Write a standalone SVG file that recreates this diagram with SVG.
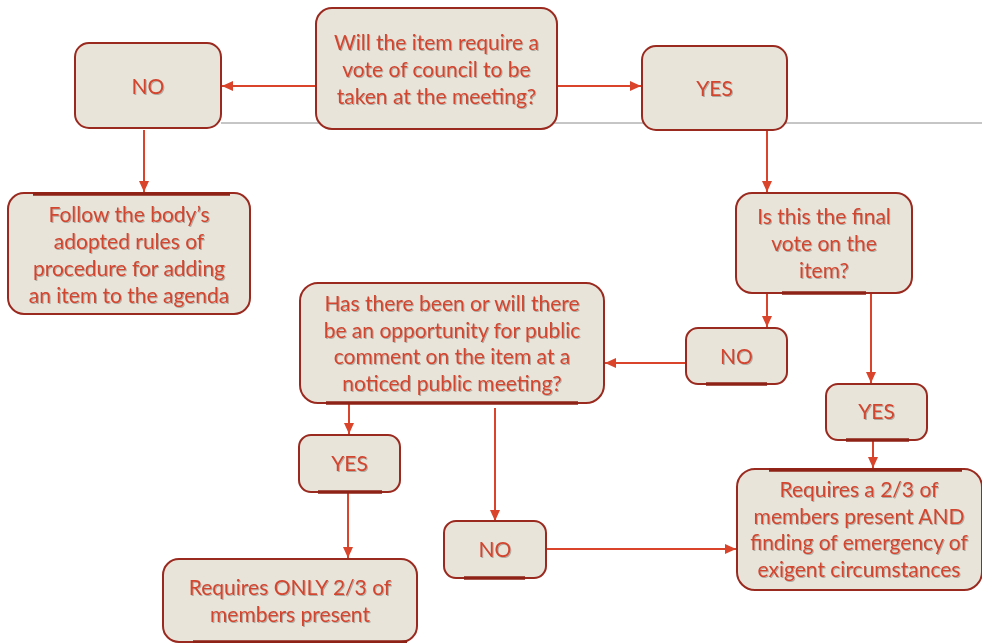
<svg xmlns="http://www.w3.org/2000/svg" width="982" height="643" viewBox="0 0 982 643">
<style>
.box{fill:#E8E4DA;stroke:#9A2A1F;stroke-width:2}
.edge{stroke:#8E2216;stroke-width:3.5;fill:none}
.t{font-family:Lato,"Open Sans",sans-serif;font-size:21px;fill:#D2452F;text-anchor:middle;filter:url(#sh)}
.c{stroke:#D9442B;stroke-width:2;fill:none;marker-end:url(#ah)}
</style>
<defs>
<marker id="ah" markerUnits="userSpaceOnUse" markerWidth="12" markerHeight="10" refX="11" refY="5" orient="auto">
<path d="M0,0 L11,5 L0,10 Z" fill="#D9442B"/>
</marker>
<filter id="sh" x="-5%" y="-20%" width="110%" height="140%">
<feDropShadow dx="1" dy="1" stdDeviation="0.7" flood-color="#000" flood-opacity="0.25"/>
</filter>
</defs>
<line x1="221" y1="123" x2="982" y2="123" stroke="#8C8C8C" stroke-width="1"/>
<g id="connectors">
<path class="c" d="M316,86 H222"/>
<path class="c" d="M557,86 H641"/>
<path class="c" d="M144,130 V192"/>
<path class="c" d="M767,130 V192"/>
<path class="c" d="M767,294 V327"/>
<path class="c" d="M871,294 V383"/>
<path class="c" d="M686,363 H605"/>
<path class="c" d="M349,404 V434"/>
<path class="c" d="M495,408 V521"/>
<path class="c" d="M348,493 V558"/>
<path class="c" d="M546,549 H736"/>
<path class="c" d="M873,441 V468"/>
</g>
<g id="q1">
<rect class="box" x="316" y="8" width="241" height="121" rx="16"/>
<text class="t" x="436.5" y="50">Will the item require a</text>
<text class="t" x="436.5" y="77">vote of council to be</text>
<text class="t" x="436.5" y="104">taken at the meeting?</text>
</g>
<g id="no1">
<rect class="box" x="75" y="43" width="146" height="85" rx="14"/>
<text class="t" x="148" y="94">NO</text>
</g>
<g id="yes1">
<rect class="box" x="642" y="46" width="145" height="84" rx="14"/>
<text class="t" x="714.5" y="96">YES</text>
</g>
<g id="follow">
<rect class="box" x="8" y="193" width="242" height="121" rx="16"/>
<path class="edge" d="M33,194 H230"/>
<text class="t" x="129" y="222">Follow the body’s</text>
<text class="t" x="129" y="249">adopted rules of</text>
<text class="t" x="129" y="276">procedure for adding</text>
<text class="t" x="129" y="303">an item to the agenda</text>
</g>
<g id="q2">
<rect class="box" x="736" y="193" width="176" height="100" rx="16"/>
<path class="edge" d="M782,293 H866"/>
<text class="t" x="824" y="224">Is this the final</text>
<text class="t" x="824" y="251">vote on the</text>
<text class="t" x="824" y="278">item?</text>
</g>
<g id="q3">
<rect class="box" x="300" y="283" width="304" height="120" rx="18"/>
<path class="edge" d="M326,403 H578"/>
<text class="t" x="452" y="311">Has there been or will there</text>
<text class="t" x="452" y="338">be an opportunity for public</text>
<text class="t" x="452" y="364">comment on the item at a</text>
<text class="t" x="452" y="391">noticed public meeting?</text>
</g>
<g id="no2">
<rect class="box" x="686" y="328" width="101" height="56" rx="12"/>
<path class="edge" d="M706,384 H767"/>
<text class="t" x="736.5" y="364">NO</text>
</g>
<g id="yes2">
<rect class="box" x="826" y="384" width="101" height="56" rx="12"/>
<path class="edge" d="M846,440 H909"/>
<text class="t" x="876.5" y="419">YES</text>
</g>
<g id="yes3">
<rect class="box" x="299" y="435" width="101" height="57" rx="12"/>
<path class="edge" d="M318,492 H382"/>
<text class="t" x="349.5" y="471">YES</text>
</g>
<g id="no3">
<rect class="box" x="444" y="521" width="102" height="57" rx="12"/>
<path class="edge" d="M464,578 H525"/>
<text class="t" x="495" y="557">NO</text>
</g>
<g id="only">
<rect class="box" x="163" y="559" width="254" height="83" rx="16"/>
<path class="edge" d="M193,642 H407"/>
<text class="t" x="290" y="595">Requires ONLY 2/3 of</text>
<text class="t" x="290" y="622">members present</text>
</g>
<g id="emerg">
<rect class="box" x="737" y="469" width="245" height="121" rx="18"/>
<path class="edge" d="M769,470 H962"/>
<text class="t" x="859" y="497">Requires a 2/3 of</text>
<text class="t" x="859" y="524">members present AND</text>
<text class="t" x="859" y="550">finding of emergency of</text>
<text class="t" x="859" y="577">exigent circumstances</text>
</g>
</svg>
